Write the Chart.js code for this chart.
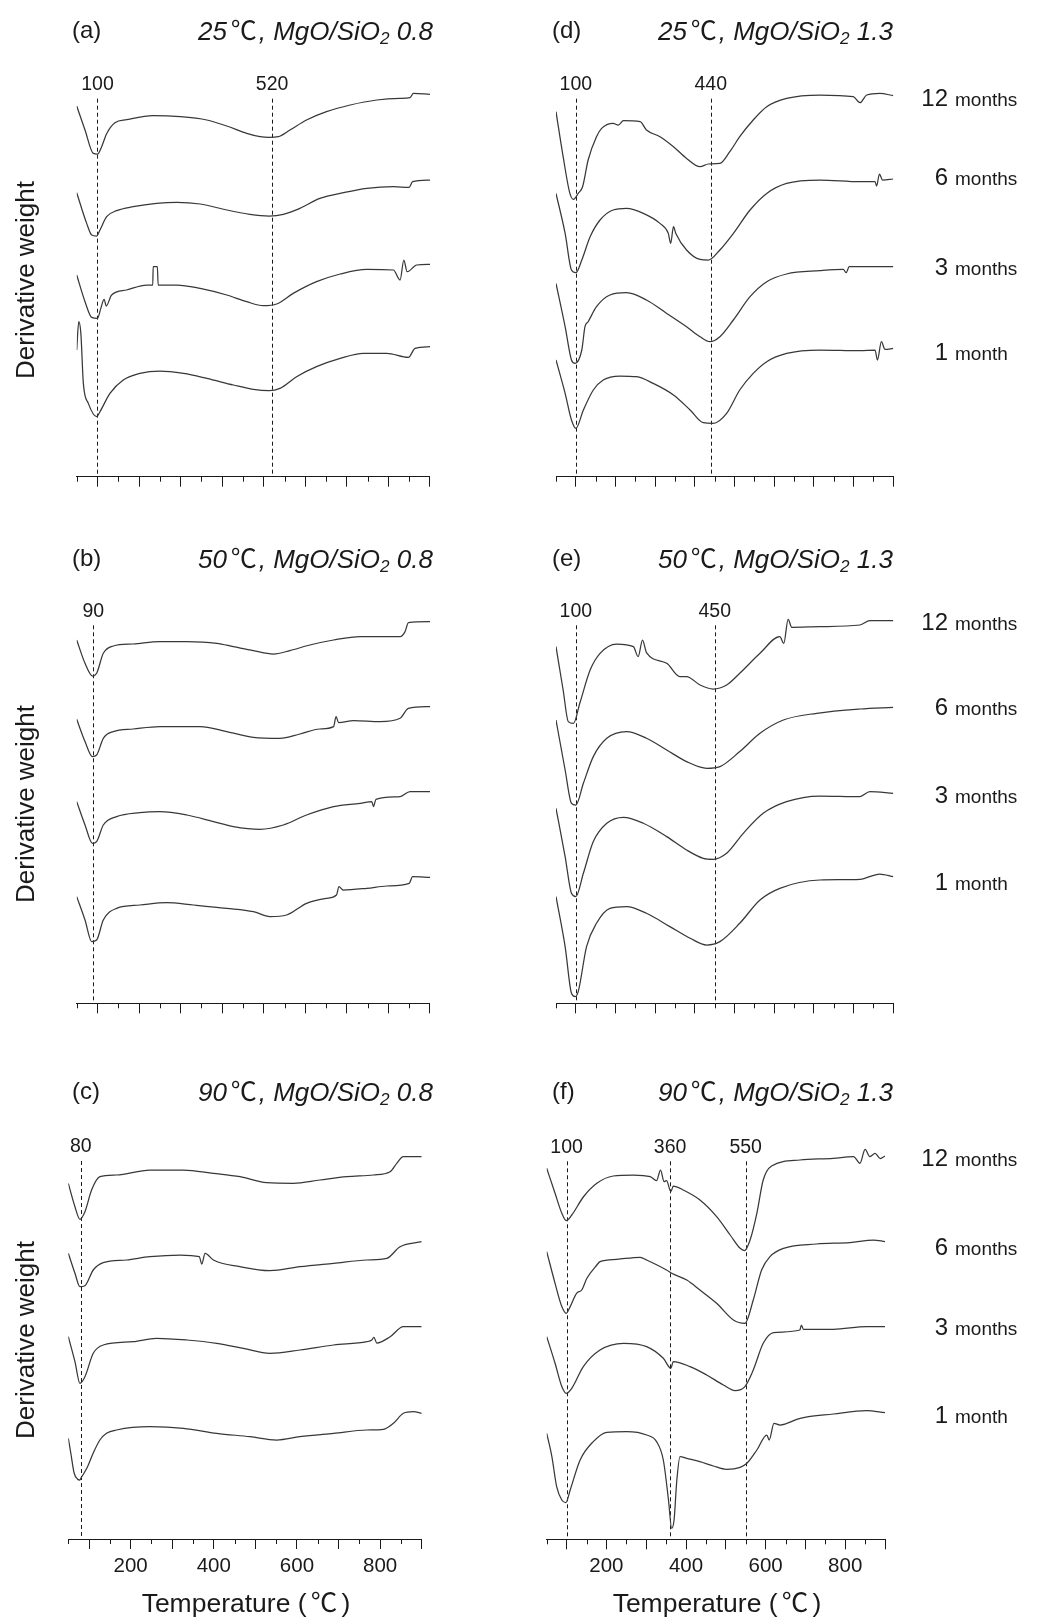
<!DOCTYPE html>
<html>
<head>
<meta charset="utf-8">
<script src="https://cdn.jsdelivr.net/npm/chart.js@4.4.1/dist/chart.umd.min.js"></script>
<style>
  html, body { margin: 0; padding: 0; background: #fff; }
  body { width: 1048px; height: 1617px; position: relative; overflow: hidden;
         font-family: "Liberation Sans", Arial, "Noto Sans CJK SC", sans-serif; color: #1a1a1a; }
  canvas { position: absolute; left: 0; top: 0; }
  .t { position: absolute; white-space: nowrap; line-height: 1; }
  .deg { font-family: "Noto Sans CJK SC", "Noto Sans CJK JP", sans-serif; font-style: normal; margin: 0 0.08em 0 0.14em; }
  .deg.p { margin: 0 0.16em; }
  sub { font-size: 0.66em; vertical-align: -0.22em; line-height: 0; }
  .age { position: absolute; display: flex; align-items: baseline; line-height: 1; white-space: nowrap; }
  .age .n { width: 48px; text-align: right; font-size: 24px; }
  .age .u { margin-left: 7px; font-size: 19px; }
</style>
</head>
<body>
<script>
// ---- Temperature axis ----
const tempRange = [50, 900];
const majorTicks = [100, 200, 300, 400, 500, 600, 700, 800, 900];
const minorTicks = [50, 150, 250, 350, 450, 550, 650, 750, 850];
const tickLabels = [200, 400, 600, 800];

// ---- Curing ages (top to bottom in each panel) ----
const ageNumbers = ['12', '6', '3', '1'];
const ageUnits = ['months', 'months', 'months', 'month'];

// ---- DTG curves: [temperature (°C), derivative weight (a.u., stacked)] ----
// (a) 25 °C, MgO/SiO2 0.8
const a_12m = [[50,370.7],[70,346.7],[90,323.3],[100,322.7],[110,330],[122,343],[142,354],[170,357],[234,361],[299,360],[363,356.7],[411,350.7],[459,343.3],[491,340],[513,339.3],[535,340],[563,346.7],[603,356.7],[651,365],[708,371.7],[772,376.7],[828,378.3],[852,379],[860,383.3],[900,382.3]];
const a_6m = [[50,284],[74,253.3],[86,241.7],[98,240.7],[106,246.7],[122,260],[146,266],[186,270],[242,273.3],[291,274.3],[347,272.7],[411,266.7],[467,262.3],[513,260.7],[547,262.3],[587,268.3],[635,278.3],[692,284],[748,288.3],[812,290],[850,289.3],[858,295],[900,296.7]];
const a_3m = [[50,201.7],[70,175],[86,159.3],[100,158.3],[108,168.3],[116,177.3],[121,170.7],[134,181.7],[170,186.7],[218,191.7],[233,191.7],[234,210],[244,210],[246,191.7],[291,191.7],[347,188.3],[411,181.7],[459,175],[499,171],[531,172.7],[571,183.3],[627,195],[684,202.7],[748,207.3],[812,206.7],[828,196.7],[837,216.7],[845,205],[868,211.7],[900,212.3]];
const a_1m = [[50,126.7],[55,155],[60,143.3],[66,93.3],[78,73.3],[98,60],[106,65],[130,83.3],[162,96.7],[202,103.3],[250,105.7],[307,103.3],[363,98.3],[427,91.7],[475,87.3],[513,86],[539,88.3],[579,100],[627,110],[684,118.3],[740,123.3],[796,123.3],[848,119.3],[864,128.3],[900,130]];

// (b) 50 °C, MgO/SiO2 0.8
const b_12m = [[50,363.3],[70,340],[88,327.3],[98,330],[114,350],[138,357.3],[186,359.3],[250,361.7],[315,361.7],[387,360],[427,356.7],[475,352.7],[523,349.3],[563,352.7],[611,358.3],[668,363.3],[732,366.7],[828,366.7],[840,371.7],[848,380.7],[900,381.7]];
const b_6m = [[50,284],[70,261.7],[88,246.7],[98,248.3],[114,265],[138,271.7],[186,274.3],[250,276.7],[347,276.7],[411,271.7],[475,266],[539,265],[587,269.3],[635,274.3],[668,276.7],[674,286.7],[680,280.7],[716,282.7],[780,281.7],[828,285],[848,295],[900,296.7]];
const b_3m = [[50,201.7],[70,178.3],[88,160],[98,161.7],[114,178.3],[146,186.7],[202,190.7],[250,191.7],[315,188.3],[379,181.7],[427,176.7],[491,174],[547,178.3],[603,188.3],[668,196.7],[732,200],[760,201.7],[764,196.7],[770,204],[828,206.7],[852,211.7],[900,211.7]];
const b_1m = [[50,106.7],[70,83.3],[86,61.7],[98,63.3],[114,83.3],[146,95],[202,98.3],[266,100.7],[331,98.3],[411,95],[475,91.7],[515,86.7],[555,88.3],[603,100],[651,105],[675,108.3],[681,116.7],[691,113.3],[748,115],[796,117.3],[850,120],[858,126.7],[900,126]];

// (c) 90 °C, MgO/SiO2 0.8
const c_12m = [[50,355.7],[66,332.3],[78,319.7],[90,327.3],[106,349],[126,362.3],[166,364],[246,369],[327,369],[399,365.7],[463,362.3],[527,356.3],[591,355.7],[655,359],[720,362.3],[784,364],[824,367.3],[840,375.7],[856,382.3],[900,382.3]];
const c_6m = [[50,285.7],[66,265.7],[78,252.3],[90,253.3],[110,269],[134,276.3],[190,279],[246,282.3],[319,284],[365,282.3],[371,275],[379,285.7],[399,279],[463,272.3],[535,268.3],[607,272.3],[688,275.7],[768,279],[816,280.7],[848,292.3],[900,297.3]];
const c_3m = [[50,202.3],[66,177.3],[78,155.7],[90,162.3],[110,185.7],[134,194],[206,197.3],[262,200.7],[335,199],[407,195.7],[471,190.7],[535,185.7],[607,189],[688,194],[768,197.3],[780,199],[785,201.7],[792,196],[824,202.3],[856,212.3],[900,212.3]];
const c_1m = [[50,100.7],[56,86],[64,66],[72,60],[77,59],[82,62],[96,72],[110,86],[126,99],[142,105.7],[166,109],[246,112.3],[327,110.7],[407,105.7],[487,102.3],[551,99],[607,102.3],[688,105.7],[768,109],[808,109.7],[832,115.7],[856,125.7],[880,127.3],[900,125.7]];

// (d) 25 °C, MgO/SiO2 1.3
const d_12m = [[50,365],[68,320],[85,283.3],[94,277.3],[106,283.3],[117,290],[131,316.7],[152,340],[165,348.3],[194,353.3],[207,351.7],[220,356],[262,355],[278,346.7],[312,340],[346,330],[379,318.3],[413,310],[434,312.7],[463,313.3],[488,325],[513,340],[547,356.7],[581,370],[631,378.3],[715,381.7],[799,380],[816,374],[833,381.7],[866,383.3],[900,381]];
const d_6m = [[50,283.3],[73,243.3],[89,206.7],[100,204],[115,216.7],[136,240],[161,256.7],[194,266.7],[228,268.3],[270,263.3],[312,253.3],[333,243.3],[339,233.3],[346,250],[352,243.3],[379,226.7],[413,217.3],[434,216.7],[463,226.7],[497,243.3],[539,266.7],[581,283.3],[631,293.3],[715,296.7],[816,295],[854,295],[858,290.7],[865,302.7],[873,296.7],[900,297.7]];
const d_3m = [[50,193.3],[73,150],[89,116.7],[98,113.3],[115,126.7],[123,150],[131,155],[152,170],[186,181.7],[228,184],[278,176.7],[329,163.3],[379,150],[413,140],[438,135],[463,140],[497,156.7],[539,180],[581,195],[631,202.7],[715,206],[774,207.3],[781,204],[789,210],[833,210],[900,210]];
const d_1m = [[50,116.7],[73,83.3],[89,56.7],[100,48.3],[119,66.7],[144,86.7],[169,96.7],[211,100.7],[253,100],[295,93.3],[346,81.7],[388,66.7],[421,54],[446,53.3],[480,63.3],[513,86.7],[547,103.3],[581,115],[631,123.3],[715,126.7],[816,126],[854,126.7],[860,116.7],[870,135],[879,127.3],[900,128.3]];

// (e) 50 °C, MgO/SiO2 1.3
const e_12m = [[50,356.7],[68,313.3],[81,281.7],[94,280],[110,300],[136,333.3],[161,350],[203,359.3],[245,356.7],[257,346.7],[268,363.3],[278,350.7],[329,340],[362,326.7],[379,326.7],[413,318.3],[446,314.3],[480,318.3],[513,330],[564,350],[614,366.7],[624,360],[635,384],[644,376],[715,376.7],[816,378.3],[841,382.7],[900,382.7]];
const e_6m = [[50,283.3],[73,233.3],[89,200],[100,198.3],[119,220],[144,246.7],[178,265],[228,271.7],[278,265],[329,253.3],[379,241.7],[430,235],[463,236.7],[513,251.7],[564,270],[623,283.3],[707,290],[816,294.3],[900,296]];
const e_3m = [[50,195],[73,146.7],[89,110],[100,106.7],[119,130],[144,161.7],[178,180],[220,186],[270,180],[329,166.7],[379,153.3],[421,145],[446,144],[480,150],[522,170],[572,190],[631,201.7],[715,207.3],[816,206.7],[841,211.7],[900,210]];
const e_1m = [[50,106.7],[73,56.7],[89,10],[98,6.7],[106,11.7],[127,56.7],[152,80],[186,95],[228,96.7],[278,90],[337,76.7],[388,65],[430,58.3],[463,61.7],[513,80],[564,103.3],[614,115],[715,123.3],[816,124],[866,129.3],[900,126.7]];

// (f) 90 °C, MgO/SiO2 1.3
const f_12m = [[50,371],[71,346],[88,326],[99,318.7],[113,324.3],[142,342.3],[176,356],[217,363.3],[268,364.3],[310,362.7],[326,358.7],[336,369.3],[345,357.7],[351,358.7],[362,347.7],[368,353.3],[393,349.3],[435,339.3],[477,322.7],[511,304.3],[536,291],[547,288.7],[561,299.3],[578,326],[594,359.3],[615,373.3],[686,379.3],[770,381],[821,382.7],[837,376],[850,390],[862,382.7],[875,386],[888,380.7],[900,383.3]];
const f_6m = [[50,287.7],[71,256],[88,232.7],[99,226],[109,232.7],[125,246],[138,249.3],[151,261],[176,274.3],[184,277.7],[226,280],[285,282],[301,279.3],[351,269.3],[364,266],[402,259.3],[435,249.3],[477,236],[519,219.3],[548,216],[569,239.3],[590,269.3],[611,282.7],[645,291],[728,295.3],[812,296.7],[871,299.3],[900,297.7]];
const f_3m = [[50,202.7],[71,176],[88,152.7],[99,146],[113,151],[142,172.7],[184,189.3],[243,196],[301,192.7],[343,181],[362,171],[368,177.7],[410,172.7],[452,164.3],[494,154.3],[523,148.7],[548,152.7],[569,169.3],[594,196],[620,206.7],[686,209.3],[690,214.3],[695,210],[770,210],[854,212.7],[900,212.7]];
const f_1m = [[50,106],[63,82.7],[75,52.7],[88,39.3],[98,36.7],[109,49.3],[134,79.3],[167,97.7],[201,107],[251,107.7],[301,104.3],[326,97.7],[343,79.3],[356,39.3],[364,11],[370,19.3],[377,59.3],[385,82.7],[402,81],[435,77.7],[469,73.3],[502,70],[536,72],[553,76],[578,89.3],[603,104.3],[609,99.3],[621,116],[636,114.3],[687,121],[770,125.3],[854,128.7],[900,126.7]];

// ---- Marked peak temperatures (°C) ----
const peaksA = [100, 520];
const peaksB = [90];
const peaksC = [80];
const peaksD = [100, 440];
const peaksE = [100, 450];
const peaksF = [100, 360, 550];

// ---- Panel captions ----
const DEG = '<span class="deg">℃</span>';
const panelTags = ['(a)', '(b)', '(c)', '(d)', '(e)', '(f)'];
const panelTitles = [
  `25${DEG}, MgO/SiO<sub>2</sub> 0.8`, `50${DEG}, MgO/SiO<sub>2</sub> 0.8`, `90${DEG}, MgO/SiO<sub>2</sub> 0.8`,
  `25${DEG}, MgO/SiO<sub>2</sub> 1.3`, `50${DEG}, MgO/SiO<sub>2</sub> 1.3`, `90${DEG}, MgO/SiO<sub>2</sub> 1.3`
];

// ---- Page layout (pixels) ----
const PAGE_W = 1048, PAGE_H = 1617;
const Y_SPAN = 400;          // vertical extent of each plot in signal units
const X_AXIS_H = 60;         // reserved height of the temperature axis
const panels = [
  { series: [a_12m, a_6m, a_3m, a_1m], peaks: peaksA, left: 76.7, right: 430, axisY: 476.7, labels: false },
  { series: [b_12m, b_6m, b_3m, b_1m], peaks: peaksB, left: 76.7, right: 430, axisY: 1003.3, labels: false },
  { series: [c_12m, c_6m, c_3m, c_1m], peaks: peaksC, left: 68.3, right: 421.7, axisY: 1539, labels: true },
  { series: [d_12m, d_6m, d_3m, d_1m], peaks: peaksD, left: 556, right: 893.3, axisY: 476.7, labels: false },
  { series: [e_12m, e_6m, e_3m, e_1m], peaks: peaksE, left: 556, right: 893.3, axisY: 1003.3, labels: false },
  { series: [f_12m, f_6m, f_3m, f_1m], peaks: peaksF, left: 546.7, right: 885, axisY: 1539.3, labels: true }
];

const INK = '#1a1a1a';
const CURVE = '#383838';

// Minor ticks, dashed peak markers and their temperature labels
const peakMarkers = {
  id: 'peakMarkers',
  beforeDatasetsDraw(chart, args, opts) {
    const { ctx, chartArea, scales: { x, y } } = chart;
    ctx.save();
    ctx.strokeStyle = INK;
    ctx.lineWidth = 1;
    ctx.setLineDash([4, 3]);
    ctx.beginPath();
    opts.peaks.forEach(v => {
      const px = Math.round(x.getPixelForValue(v)) + 0.5;
      ctx.moveTo(px, y.getPixelForValue(378));
      ctx.lineTo(px, chartArea.bottom);
    });
    ctx.stroke();
    ctx.restore();
  },
  afterDraw(chart, args, opts) {
    const { ctx, chartArea, scales: { x, y } } = chart;
    ctx.save();
    ctx.strokeStyle = INK;
    ctx.lineWidth = 1;
    ctx.beginPath();
    minorTicks.forEach(v => {
      const px = Math.round(x.getPixelForValue(v)) + 0.5;
      ctx.moveTo(px, chartArea.bottom);
      ctx.lineTo(px, chartArea.bottom + 5);
    });
    ctx.stroke();
    ctx.fillStyle = INK;
    ctx.font = '19.5px "Liberation Sans", Arial, sans-serif';
    ctx.textAlign = 'center';
    ctx.textBaseline = 'middle';
    opts.peaks.forEach(v => ctx.fillText(String(v), x.getPixelForValue(v), y.getPixelForValue(392)));
    ctx.restore();
  }
};

panels.forEach(p => {
  const canvas = document.createElement('canvas');
  canvas.width = PAGE_W;
  canvas.height = PAGE_H;
  canvas.style.width = PAGE_W + 'px';
  canvas.style.height = PAGE_H + 'px';
  document.body.appendChild(canvas);

  new Chart(canvas, {
    type: 'line',
    data: {
      datasets: p.series.map((s, i) => ({
        label: ageNumbers[i] + ' ' + ageUnits[i],
        data: s.map(([t, v]) => ({ x: t, y: v })),
        borderColor: CURVE,
        borderWidth: 1.25,
        pointRadius: 0,
        cubicInterpolationMode: 'monotone',
        fill: false
      }))
    },
    options: {
      responsive: false,
      devicePixelRatio: 1,
      animation: false,
      events: [],
      layout: {
        padding: {
          left: p.left,
          right: PAGE_W - p.right,
          top: p.axisY - Y_SPAN,
          bottom: PAGE_H - p.axisY - X_AXIS_H
        }
      },
      scales: {
        x: {
          type: 'linear',
          min: tempRange[0],
          max: tempRange[1],
          afterBuildTicks: s => { s.ticks = majorTicks.map(v => ({ value: v })); },
          afterFit: s => { s.height = X_AXIS_H; },
          border: { display: true, color: INK, width: 1 },
          grid: { drawOnChartArea: false, drawTicks: true, tickLength: 10, color: INK, lineWidth: 1 },
          ticks: {
            autoSkip: false,
            maxRotation: 0,
            minRotation: 0,
            padding: 5,
            color: INK,
            font: { family: '"Liberation Sans", Arial, sans-serif', size: 20.5 },
            callback: v => (p.labels && tickLabels.includes(v)) ? String(v) : ''
          }
        },
        y: { display: false, min: 0, max: Y_SPAN }
      },
      plugins: {
        legend: { display: false },
        tooltip: { enabled: false },
        peakMarkers: { peaks: p.peaks }
      }
    },
    plugins: [peakMarkers]
  });
});

// ---- Text ----
function put(html, x, y, size, anchor, extraStyle) {
  const d = document.createElement('div');
  d.className = 't';
  d.innerHTML = html;
  d.style.fontSize = size + 'px';
  d.style.left = x + 'px';
  d.style.top = y + 'px';
  const tx = anchor === 'left' ? '0' : anchor === 'right' ? '-100%' : '-50%';
  d.style.transform = `translate(${tx}, -50%)` + (extraStyle && extraStyle.rotate ? ' rotate(-90deg)' : '');
  if (extraStyle && extraStyle.italic) d.style.fontStyle = 'italic';
  document.body.appendChild(d);
  return d;
}

const captionRows = [30, 558, 1091];
const tagX = [72, 552];
const titleRight = [433, 893];
panelTags.forEach((tag, i) => {
  const col = i < 3 ? 0 : 1, row = i % 3;
  put(tag, tagX[col], captionRows[row], 24, 'left');
  put(panelTitles[i], titleRight[col], captionRows[row], 26, 'right', { italic: true });
});

[280, 804, 1340].forEach(yc => put('Derivative weight', 25, yc, 26, 'center', { rotate: true }));
[246, 717].forEach(xc => put('Temperature (<span class="deg p">℃</span>)', xc, 1602, 26.5, 'center'));

const ageRows = [[98, 177, 267, 352], [622, 707, 795, 882], [1158, 1247, 1327, 1415]];
ageRows.forEach(rows => rows.forEach((yc, i) => {
  const d = document.createElement('div');
  d.className = 'age';
  d.style.left = '900px';
  d.style.top = yc + 'px';
  d.style.transform = 'translateY(-50%)';
  d.innerHTML = `<span class="n">${ageNumbers[i]}</span><span class="u">${ageUnits[i]}</span>`;
  document.body.appendChild(d);
}));
</script>
</body>
</html>
